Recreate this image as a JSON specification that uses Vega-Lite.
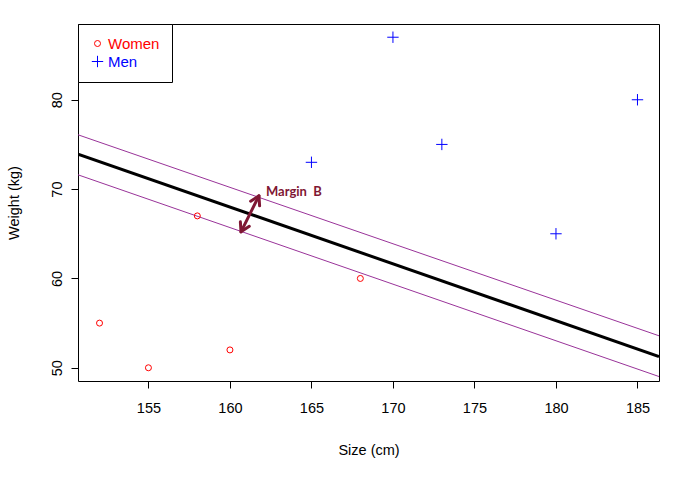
{
  "$schema": "https://vega.github.io/schema/vega-lite/v6.json",
  "width": 581,
  "height": 357,
  "autosize": "none",
  "padding": {"left": 78, "top": 24, "right": 40, "bottom": 98},
  "background": "white",
  "config": {
    "view": {"stroke": "black", "strokeWidth": 1},
    "font": "Liberation Sans",
    "axis": {
      "grid": false,
      "domain": false,
      "tickColor": "black",
      "tickSize": 7,
      "tickWidth": 1,
      "labelFont": "Liberation Sans",
      "labelFontSize": 14.5,
      "labelColor": "black",
      "titleFont": "Liberation Sans",
      "titleFontSize": 14.5,
      "titleFontWeight": "normal",
      "titleColor": "black"
    }
  },
  "datasets": {
    "points": [
      {"size": 152, "weight": 55, "sex": "Women"},
      {"size": 155, "weight": 50, "sex": "Women"},
      {"size": 158, "weight": 67, "sex": "Women"},
      {"size": 160, "weight": 52, "sex": "Women"},
      {"size": 168, "weight": 60, "sex": "Women"},
      {"size": 165, "weight": 73, "sex": "Men"},
      {"size": 170, "weight": 87, "sex": "Men"},
      {"size": 173, "weight": 75, "sex": "Men"},
      {"size": 180, "weight": 65, "sex": "Men"},
      {"size": 185, "weight": 80, "sex": "Men"}
    ],
    "margins": [
      {"line": "upper", "size": 150.68, "weight": 76.08},
      {"line": "upper", "size": 186.32, "weight": 53.58},
      {"line": "lower", "size": 150.68, "weight": 71.6},
      {"line": "lower", "size": 186.32, "weight": 49.02}
    ],
    "main": [
      {"size": 150.68, "weight": 73.92},
      {"size": 186.32, "weight": 51.26}
    ],
    "arrow": [
      {"part": "shaft", "i": 0, "size": 160.68, "weight": 65.22},
      {"part": "shaft", "i": 1, "size": 161.78, "weight": 69.25},
      {"part": "headTop", "i": 0, "size": 161.27, "weight": 68.64},
      {"part": "headTop", "i": 1, "size": 161.78, "weight": 69.25},
      {"part": "headTop", "i": 2, "size": 161.82, "weight": 68.13},
      {"part": "headBottom", "i": 0, "size": 161.19, "weight": 65.84},
      {"part": "headBottom", "i": 1, "size": 160.68, "weight": 65.22},
      {"part": "headBottom", "i": 2, "size": 160.64, "weight": 66.34}
    ],
    "label": [
      {"size": 162.21, "weight": 69.7, "text": "Margin\u00a0 B"}
    ]
  },
  "layer": [
    {
      "data": {"name": "margins"},
      "mark": {"type": "line", "color": "#993399", "strokeWidth": 1, "clip": true},
      "encoding": {
        "x": {"field": "size", "type": "quantitative"},
        "y": {"field": "weight", "type": "quantitative"},
        "detail": {"field": "line"}
      }
    },
    {
      "data": {"name": "main"},
      "mark": {"type": "line", "color": "black", "strokeWidth": 3, "clip": true},
      "encoding": {
        "x": {"field": "size", "type": "quantitative"},
        "y": {"field": "weight", "type": "quantitative"}
      }
    },
    {
      "data": {"name": "arrow"},
      "mark": {"type": "line", "color": "#7F1734", "strokeWidth": 3, "strokeCap": "round", "strokeJoin": "round"},
      "encoding": {
        "x": {"field": "size", "type": "quantitative"},
        "y": {"field": "weight", "type": "quantitative"},
        "detail": {"field": "part"},
        "order": {"field": "i"}
      }
    },
    {
      "data": {"name": "label"},
      "mark": {"type": "text", "align": "left", "baseline": "middle", "font": "Lato", "fontWeight": "bold", "fontSize": 13, "color": "#7F1734"},
      "encoding": {
        "x": {"field": "size", "type": "quantitative"},
        "y": {"field": "weight", "type": "quantitative"},
        "text": {"field": "text"}
      }
    },
    {
      "data": {"name": "points"},
      "mark": {"type": "point", "filled": false, "strokeWidth": 1, "size": 36, "opacity": 1},
      "encoding": {
        "x": {
          "field": "size", "type": "quantitative",
          "scale": {"domain": [150.68, 186.32], "nice": false, "zero": false},
          "axis": {"values": [155, 160, 165, 170, 175, 180, 185], "title": "Size (cm)", "labelPadding": 13, "titlePadding": 29}
        },
        "y": {
          "field": "weight", "type": "quantitative",
          "scale": {"domain": [48.52, 88.48], "nice": false, "zero": false},
          "axis": {"values": [50, 60, 70, 80], "title": "Weight (kg)", "labelAngle": -90, "labelAlign": "center", "labelBaseline": "bottom", "labelPadding": 7, "titlePadding": 28}
        },
        "color": {
          "field": "sex", "type": "nominal",
          "scale": {"domain": ["Women", "Men"], "range": ["#FF0000", "#0000FF"]},
          "legend": {
            "orient": "top-left",
            "offset": 0,
            "title": null,
            "strokeColor": "black",
            "fillColor": "white",
            "padding": 12,
            "rowPadding": 1,
            "labelFont": "Liberation Sans",
            "labelFontSize": 15,
            "labelOffset": 3,
            "symbolSize": 36,
            "symbolStrokeWidth": 1,
            "symbolStrokeColor": {"expr": "datum.value === 'Women' ? '#FF0000' : '#0000FF'"},
            "labelColor": {"expr": "datum.value === 'Women' ? '#FF0000' : '#0000FF'"}
          }
        },
        "shape": {
          "field": "sex", "type": "nominal",
          "scale": {"domain": ["Women", "Men"], "range": ["circle", "M-1.9,0H1.9M0,-1.9V1.9"]}
        }
      }
    }
  ]
}
